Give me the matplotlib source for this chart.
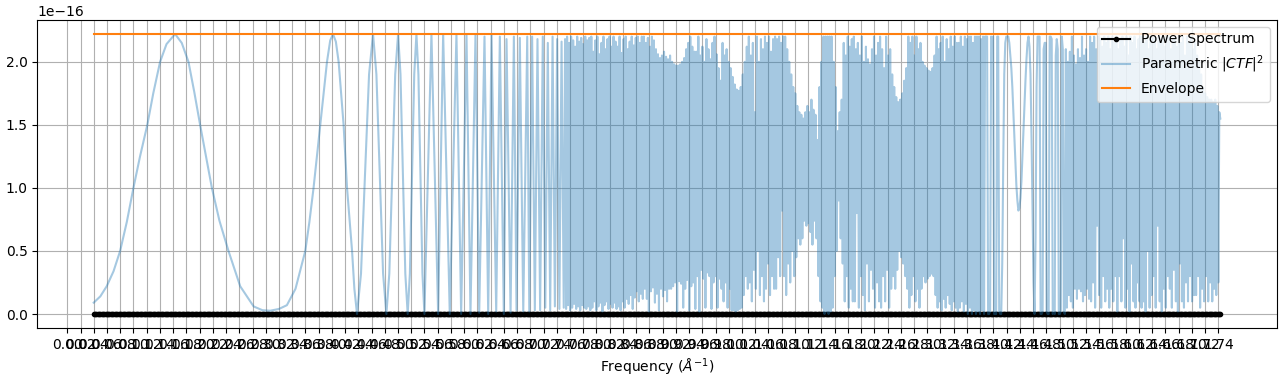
import numpy as np
import matplotlib
matplotlib.use("Agg")
import matplotlib.pyplot as plt

# ---------------- data (|CTF|^2 values in units of 1e-16) ----------------
value_unit = 1e-16

# resolved (smooth) part of the parametric |CTF|^2 : frequency / value pairs
ctf_freq_resolved = [
    0.040, 0.050, 0.0596, 0.070, 0.0799, 0.090, 0.100, 0.110, 0.121, 0.130,
    0.1403, 0.150, 0.163, 0.173, 0.1832, 0.192, 0.2008, 0.2186, 0.230, 0.2437,
    0.2614, 0.2817, 0.295, 0.3067, 0.320, 0.332, 0.345, 0.3598, 0.366, 0.3723,
    0.3825, 0.3926, 0.3975, 0.4017, 0.406, 0.4102, 0.4177, 0.4229, 0.4305, 0.434,
    0.438,
    0.4440, 0.4501, 0.4562, 0.4622, 0.4673, 0.4723, 0.4774, 0.4824,
    0.4868, 0.4912, 0.4957, 0.5001, 0.5037, 0.5074, 0.5110, 0.5146,
    0.5179, 0.5212, 0.5245, 0.5278, 0.5308, 0.5338, 0.5369, 0.5399,
    0.5505, 0.5606, 0.5682, 0.5782, 0.5883, 0.5954, 0.6035, 0.6095, 0.6171, 0.6227,
    0.6307, 0.6363, 0.6413, 0.6484, 0.6539, 0.6599, 0.6640, 0.6701, 0.6751, 0.6791,
    0.6841, 0.6893, 0.6953, 0.6984,
    0.7027, 0.7068, 0.7108, 0.7148, 0.7188, 0.7226, 0.7264, 0.7300, 0.7336, 0.7371,
    0.7405, 0.7439, 0.7472, 0.7505,
]
ctf_val_resolved = [
    0.09, 0.14, 0.22, 0.34, 0.50, 0.73, 1.00, 1.25, 1.50, 1.75,
    2.00, 2.14, 2.22, 2.15, 2.00, 1.76, 1.50, 1.00, 0.74, 0.50,
    0.22, 0.06, 0.03, 0.026, 0.04, 0.07, 0.20, 0.50, 0.73, 1.00,
    1.50, 2.00, 2.17, 2.22, 2.16, 2.00, 1.50, 1.00, 0.50, 0.20,
    0.0,
    0.32, 1.11, 1.90, 2.22, 1.90, 1.11, 0.32, 0.0,
    0.32, 1.11, 1.90, 2.22, 1.90, 1.11, 0.32, 0.0,
    0.32, 1.11, 1.90, 2.22, 1.90, 1.11, 0.32, 0.0,
    2.22, 0.0, 2.22, 0.0, 2.22, 0.0, 2.21, 0.0, 2.22, 0.01,
    2.2, 0.0, 2.21, 0.02, 2.2, 0.0, 2.18, 0.01, 2.2, 0.03,
    2.19, 0.02, 2.2, 0.02,
    2.2, 0.03, 2.18, 0.03, 2.2, 0.05, 2.15, 0.03, 2.2, 0.06,
    2.18, 0.04, 2.16, 0.05,
]

# aliased high-frequency part, evenly sampled between these frequencies
dense_start = 0.7525
dense_stop = 1.743
ctf_val_dense = [
    2.18, 0.04, 2.2, 0.07, 2.15, 0.03, 2.2, 0.05, 2.17, 0.08, 2.12, 0.04, 2.2, 0.06, 2.16, 0.03, 2.19, 0.07, 2.14, 0.05, 2.2, 0.04, 2.17, 0.06, 2.19, 0.03,
    2.2, 0.05, 2.08, 0.1, 2.17, 0.03, 2.2, 0.06, 2.06, 0.09, 2.15, 0.02, 2.2, 0.07, 2.1, 0.1, 2.18, 0.04, 2.2, 0.08, 2.12, 0.05, 2.2, 0.09, 2.16, 0.04,
    2.12, 0.06, 2.2, 0.03, 2.07, 0.1, 2.18, 0.05, 2.2, 0.12, 2.1, 0.08, 2.16, 0.15, 2.2, 0.04, 2.13, 0.13, 2.19, 0.18, 2.2, 0.1, 2.15, 0.16, 2.2, 0.12,
    2.2, 0.2, 2.15, 0.12, 2.19, 0.02, 2.12, 0.18, 2.2, 0.21, 2.17, 0.09, 2.1, 0.16, 2.06, 0.03, 2.03, 0.2, 2.05, 0.14, 2.08, 0.19, 2.04, 0.1, 2.02, 0.2,
    2.05, 0.2, 2.0, 0.22, 1.98, 0.25, 1.97, 0.02, 1.97, 0.26, 1.98, 0.24, 2.0, 0.05, 2.03, 0.2, 2.1, 0.27, 2.15, 0.03, 2.2, 0.22, 2.12, 0.25, 2.08, 0.04,
    2.08, 0.3, 2.2, 0.02, 2.05, 0.35, 2.12, 0.28, 2.0, 0.05, 2.18, 0.33, 2.1, 0.3, 2.02, 0.04, 2.15, 0.25, 2.2, 0.3, 2.06, 0.05, 1.95, 0.28, 1.85, 0.2,
    2.15, 0.1, 2.05, 0.25, 2.1, 0.05, 2.0, 0.2, 1.95, 0.03, 1.88, 0.03, 1.82, 0.02, 1.78, 0.03, 1.77, 0.04, 1.8, 0.05, 1.9, 0.15, 2.0, 0.3, 2.12, 0.2,
    2.2, 0.25, 2.05, 0.1, 2.15, 0.35, 1.6, 0.2, 2.2, 0.5, 2.0, 0.15, 2.18, 0.3, 2.1, 0.1, 2.2, 0.2, 2.15, 0.4, 2.2, 0.15, 2.08, 0.3, 2.18, 0.2,
    2.2, 0.2, 2.18, 0.45, 2.2, 0.3, 2.15, 0.82, 2.2, 0.3, 2.2, 0.15, 2.1, 0.4, 2.0, 0.25, 1.9, 0.5, 1.8, 0.3, 1.75, 0.45, 1.65, 0.6, 1.6, 0.55,
    1.58, 0.6, 1.55, 0.74, 1.6, 0.7, 1.65, 0.72, 1.6, 0.65, 1.7, 0.55, 1.62, 0.74, 1.58, 0.6, 1.38, 0.3, 1.8, 0.1, 2.0, 0.05, 2.2, 0.0, 2.2, 0.02,
    2.2, 0.0, 2.2, 0.02, 2.2, 0.05, 2.0, 0.3, 1.8, 0.5, 1.45, 0.9, 1.6, 0.6, 1.7, 0.4, 2.15, 0.1, 2.05, 0.3, 2.2, 0.05, 2.12, 0.2, 2.18, 0.1,
    2.2, 0.1, 2.1, 0.8, 2.15, 0.05, 2.05, 0.3, 2.2, 0.15, 2.0, 0.03, 2.12, 0.4, 2.02, 0.1, 1.98, 0.35, 2.1, 0.2, 2.2, 0.05, 2.05, 0.25, 2.15, 0.1,
    2.2, 0.05, 2.1, 0.3, 1.95, 0.1, 2.2, 0.35, 2.05, 0.05, 2.1, 0.2, 1.9, 0.3, 1.8, 0.2, 1.72, 0.35, 1.68, 0.5, 1.7, 0.45, 1.75, 0.4, 1.85, 0.3,
    1.95, 0.2, 2.2, 0.05, 2.15, 0.15, 2.2, 0.3, 2.05, 0.1, 2.2, 0.2, 2.1, 0.05, 2.15, 0.2, 2.0, 0.3, 1.97, 0.25, 1.95, 0.28, 1.93, 0.3, 1.92, 0.32,
    1.95, 0.3, 2.05, 0.15, 2.2, 0.05, 2.1, 0.1, 2.15, 0.03, 2.2, 0.12, 2.0, 0.05, 2.18, 0.15, 2.1, 0.08, 2.2, 0.03, 2.12, 0.1, 2.2, 0.05, 2.15, 0.02,
    2.15, 0.05, 2.2, 0.1, 2.12, 0.02, 2.2, 0.08, 2.18, 0.0, 2.2, 0.05, 2.2, 0.0, 2.15, 0.03, 2.2, 0.0, 2.2, 0.02, 2.2, 0.0, 2.18, 0.03, 2.2, 0.0,
    2.2, 2.2, 2.2, 0.0, 0.0, 0.02, 2.2, 2.18, 2.2, 0.0, 0.0, 0.0, 2.2, 2.2, 0.02, 0.0, 0.0, 0.4, 1.2, 1.9, 2.15, 2.2, 2.2, 2.2, 2.15, 2.05,
    1.95, 1.8, 1.6, 1.4, 1.2, 1.02, 0.9, 0.82, 0.84, 0.92, 1.05, 1.25, 1.45, 1.65, 1.85, 2.02, 2.15, 2.2, 2.12, 1.9, 1.4, 0.8, 0.25, 0.0, 0.6, 1.8,
    2.2, 2.2, 2.2, 0.0, 0.0, 0.02, 2.1, 2.15, 2.15, 0.02, 0.0, 0.0, 2.2, 2.2, 2.18, 0.0, 0.03, 0.0, 2.05, 2.18, 2.1, 0.0, 0.0, 0.02, 2.2, 2.1,
    0.02, 0.0, 2.1, 0.05, 2.0, 0.15, 2.08, 0.1, 2.2, 0.05, 2.05, 0.2, 1.98, 0.12, 2.1, 0.2, 2.03, 0.18, 2.2, 0.1, 2.05, 0.15, 2.1, 0.2, 2.0, 0.12,
    2.2, 0.1, 2.15, 0.25, 2.2, 0.05, 2.1, 0.7, 2.2, 0.15, 2.18, 0.05, 2.12, 0.3, 2.2, 0.1, 2.15, 0.2, 2.2, 0.05, 2.1, 0.2, 2.2, 0.1, 2.15, 0.3,
    2.2, 0.02, 2.1, 0.3, 2.18, 0.1, 2.2, 0.6, 2.12, 0.05, 2.2, 0.2, 2.05, 0.02, 2.2, 0.4, 2.15, 0.1, 2.2, 0.05, 2.1, 0.25, 2.18, 0.1, 2.2, 0.05,
    2.2, 0.1, 2.15, 0.02, 2.2, 0.5, 2.1, 0.05, 2.2, 0.15, 2.18, 0.3, 2.2, 0.05, 2.1, 0.7, 2.2, 0.1, 2.15, 0.02, 2.2, 0.2, 2.12, 0.05, 2.2, 0.3,
    2.2, 0.2, 2.1, 0.05, 2.18, 0.35, 2.2, 0.1, 2.12, 0.02, 2.2, 0.4, 2.15, 0.1, 2.2, 0.05, 2.05, 0.25, 2.2, 0.1, 2.15, 0.3, 2.2, 0.1, 2.1, 0.15,
    2.15, 0.15, 2.05, 0.3, 2.0, 0.05, 1.9, 0.2, 1.8, 0.1, 1.75, 0.3, 1.72, 0.1, 1.7, 0.25, 1.7, 0.1, 1.68, 0.2, 1.7, 0.15, 1.65, 0.25, 1.6, 1.55,
]

# measured power spectrum (flat at zero), evenly sampled
ps_start = 0.040
ps_stop = 1.743
ps_count = 860
ps_values = [0.0] * ps_count

# envelope (constant)
env_freq = [0.040, 1.743]
env_values = [2.2204, 2.2204]

tick_step = 0.02
tick_max = 1.74

# ---------------- plotting ----------------
fig = plt.figure(figsize=(12.81, 3.83), dpi=100)
ax = fig.add_subplot(111)
fig.subplots_adjust(left=0.0292, right=0.9966, bottom=0.1436, top=0.9478)

ps_freq = np.linspace(ps_start, ps_stop, ps_count)
dense_freq = np.linspace(dense_start, dense_stop, len(ctf_val_dense))
ctf_freq = np.concatenate([np.array(ctf_freq_resolved), dense_freq])
ctf_vals = np.concatenate([np.array(ctf_val_resolved), np.array(ctf_val_dense)]) * value_unit

ax.plot(ps_freq, np.array(ps_values) * value_unit, 'k.-', label='Power Spectrum')
ax.plot(ctf_freq, ctf_vals, color='C0', alpha=0.4, label=r'Parametric $|CTF|^2$')
ax.plot(env_freq, np.array(env_values) * value_unit, color='C1', label='Envelope')

ax.set_xticks(np.arange(0, tick_max + tick_step / 2, tick_step))
ax.set_xlabel(r'Frequency ($Å^{-1}$)')
ax.grid(True)
ax.legend(loc='upper right')

fig.savefig('out.png', dpi=100)
